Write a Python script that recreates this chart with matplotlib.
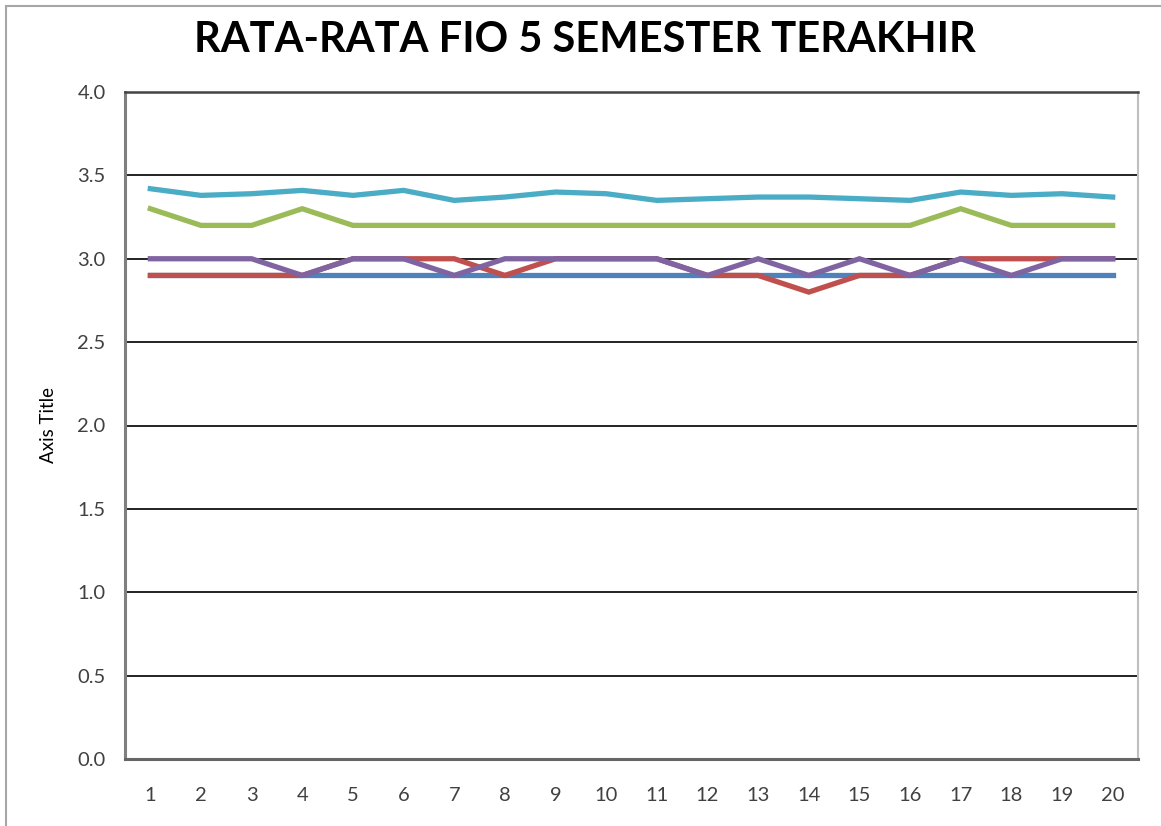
import matplotlib
matplotlib.use("Agg")
import matplotlib.pyplot as plt
from matplotlib.patches import Rectangle

categories = list(range(1, 21))
series_blue = [2.9] * 20
series_red = [2.9, 2.9, 2.9, 2.9, 3.0, 3.0, 3.0, 2.9, 3.0, 3.0,
              3.0, 2.9, 2.9, 2.8, 2.9, 2.9, 3.0, 3.0, 3.0, 3.0]
series_green = [3.3, 3.2, 3.2, 3.3, 3.2, 3.2, 3.2, 3.2, 3.2, 3.2,
                3.2, 3.2, 3.2, 3.2, 3.2, 3.2, 3.3, 3.2, 3.2, 3.2]
series_purple = [3.0, 3.0, 3.0, 2.9, 3.0, 3.0, 2.9, 3.0, 3.0, 3.0,
                 3.0, 2.9, 3.0, 2.9, 3.0, 2.9, 3.0, 2.9, 3.0, 3.0]
series_cyan = [3.42, 3.38, 3.39, 3.41, 3.38, 3.41, 3.35, 3.37, 3.40, 3.39,
               3.35, 3.36, 3.37, 3.37, 3.36, 3.35, 3.40, 3.38, 3.39, 3.37]
y_ticks = [0.0, 0.5, 1.0, 1.5, 2.0, 2.5, 3.0, 3.5, 4.0]
title = "RATA-RATA FIO 5 SEMESTER TERAKHIR"
y_label = "Axis Title"

plt.rcParams['font.family'] = ['Lato', 'DejaVu Sans']

fig = plt.figure(figsize=(11.61, 8.26), dpi=100)
fig.patch.set_facecolor('white')
fig.patches.append(Rectangle((6 / 1161, -0.01), 1.2, 1 - 6 / 826 + 0.01,
                             transform=fig.transFigure, fill=False,
                             edgecolor='#a6a6a6', linewidth=1.5))

ax = fig.add_axes([125 / 1161, 1 - 759 / 826, (1138 - 125) / 1161, (759 - 92) / 826])

series = [
    (series_blue, '#4F81BD'),
    (series_red, '#C0504D'),
    (series_green, '#9BBB59'),
    (series_purple, '#8064A2'),
    (series_cyan, '#4BACC6'),
]
for vals, col in series:
    ax.plot(categories, vals, color=col, linewidth=3.8, solid_joinstyle='miter', zorder=3)

ax.set_xlim(0.5, 20.5)
ax.set_ylim(0, 4.0)
ax.set_yticks(y_ticks)
ax.set_yticklabels([f"{v:.1f}" for v in y_ticks])
ax.set_xticks(categories)
ax.set_xticklabels([str(c) for c in categories])
ax.tick_params(axis='both', length=0, labelsize=14.5, colors='#404040', labelcolor='#404040')
ax.tick_params(axis='y', pad=14)
ax.tick_params(axis='x', pad=20)

ax.grid(axis='y', color='#111111', linewidth=1.3, zorder=1)
ax.set_axisbelow(True)

ax.spines['left'].set_color('#7f7f7f')
ax.spines['left'].set_linewidth(2.2)
ax.spines['bottom'].set_color('#666666')
ax.spines['bottom'].set_linewidth(2.2)
ax.spines['right'].set_color('#bfbfbf')
ax.spines['right'].set_linewidth(1.5)
ax.spines['top'].set_color('#444444')
ax.spines['top'].set_linewidth(1.8)

fig.text(48 / 1161, 1 - 425 / 826, y_label, ha='center', va='center', rotation=90,
         fontsize=13.5, color='black')

fig.text(585 / 1161, 1 - 40 / 826, title, ha='center', va='center',
         fontsize=30, fontweight='bold', color='black')

fig.savefig("out.png", dpi=100)
